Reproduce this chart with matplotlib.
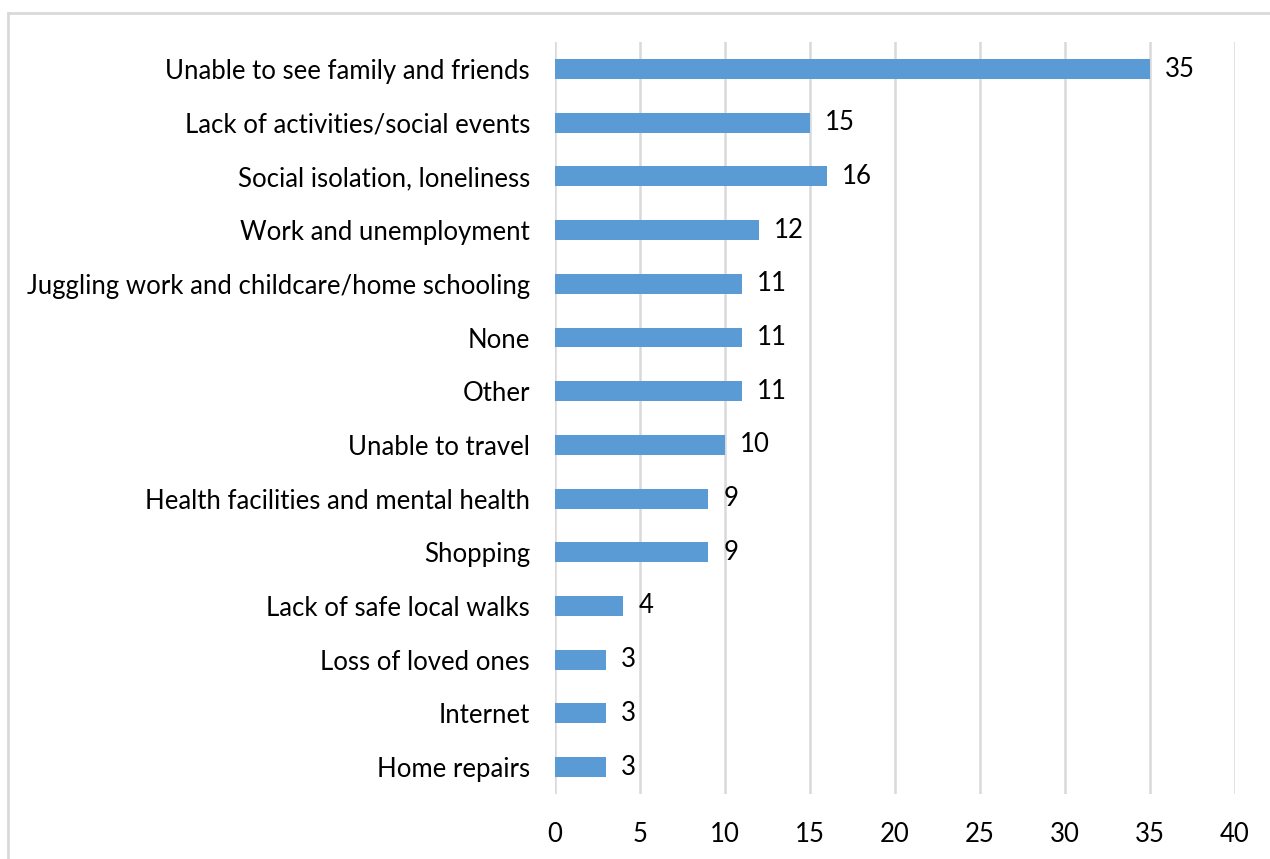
import matplotlib
matplotlib.use("Agg")
import matplotlib.pyplot as plt
from matplotlib.lines import Line2D

categories = [
    "Unable to see family and friends",
    "Lack of activities/social events",
    "Social isolation, loneliness",
    "Work and unemployment",
    "Juggling work and childcare/home schooling",
    "None",
    "Other",
    "Unable to travel",
    "Health facilities and mental health",
    "Shopping",
    "Lack of safe local walks",
    "Loss of loved ones",
    "Internet",
    "Home repairs",
]
values = [35, 15, 16, 12, 11, 11, 11, 10, 9, 9, 4, 3, 3, 3]
xticks = [0, 5, 10, 15, 20, 25, 30, 35, 40]

plt.rcParams['font.family'] = ['Lato', 'DejaVu Sans']
FS = 18.5

fig = plt.figure(figsize=(12.7, 8.59), dpi=100)
ax = fig.add_axes([555/1270, 1-793.9/859, 680/1270, (793.9-42.2)/859])

ypos = list(range(len(categories)))
ax.barh(ypos, values, height=0.37, color="#5B9BD5", zorder=3)
ax.set_ylim(len(categories)-0.5, -0.5)
ax.set_xlim(0, 40)
ax.set_yticks(ypos)
ax.set_yticklabels(categories, fontsize=FS, color="#000000")
ax.set_xticks(xticks)
ax.set_xticklabels([str(t) for t in xticks], fontsize=FS, color="#000000")
ax.tick_params(axis='both', length=0)
ax.tick_params(axis='y', pad=18)
ax.tick_params(axis='x', pad=20)
ax.grid(axis='x', color="#D9D9D9", linewidth=1.8, zorder=0)
for s in ax.spines.values():
    s.set_visible(False)

for y, v in zip(ypos, values):
    ax.text(v + 0.9, y, str(v), va='center', ha='left', fontsize=FS, color="#000000")

fig.add_artist(Line2D([8/1270, 8/1270], [0, 1-13/859], transform=fig.transFigure, color="#D9D9D9", linewidth=2))
fig.add_artist(Line2D([8/1270, 1], [1-13/859, 1-13/859], transform=fig.transFigure, color="#D9D9D9", linewidth=2))

fig.savefig("out.png", dpi=100)
